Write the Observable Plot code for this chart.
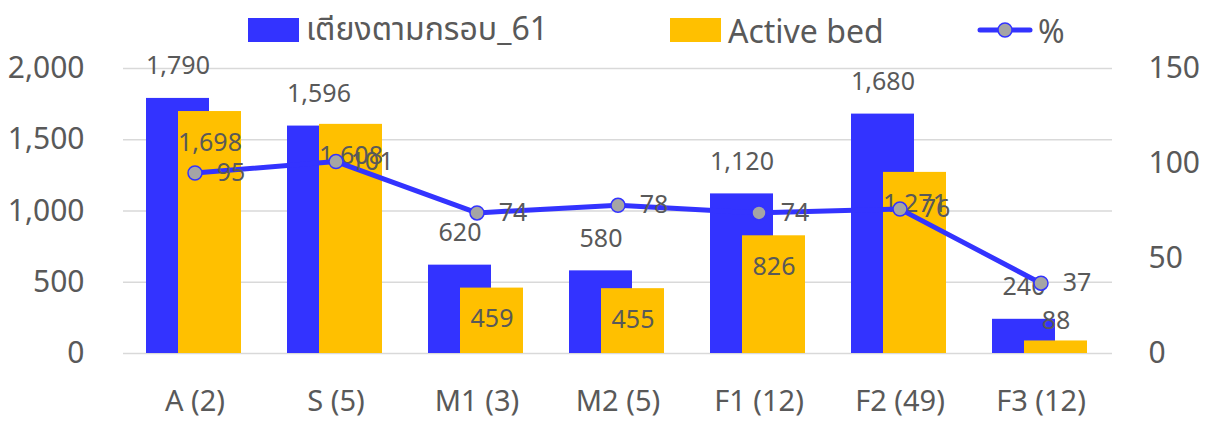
<!DOCTYPE html>
<html>
<head>
<meta charset="utf-8">
<script src="https://cdn.jsdelivr.net/npm/d3@7"></script>
<script src="https://cdn.jsdelivr.net/npm/@observablehq/plot@0.6"></script>
<style>
  body { margin: 0; background: #fff; font-family: "Noto Sans", "Noto Sans Thai", "DejaVu Sans", sans-serif; }
  #wrap { position: relative; width: 1211px; height: 423px; }
  .leg { position: absolute; top: 8px; display: flex; align-items: center; font-size: 32px; color: #595959; height: 44px; }
  .sw { width: 51px; height: 24px; margin-right: 7px; }
</style>
</head>
<body>
<div id="wrap">
  <div id="chart"></div>
  <div class="leg" style="left:248px"><div class="sw" style="background:#3333FF"></div><span>เตียงตามกรอบ_61</span></div>
  <div class="leg" style="left:670px"><div class="sw" style="background:#FFC000"></div><span>Active bed</span></div>
  <div class="leg" style="left:977px">
    <svg width="56" height="24" style="margin-right:5px"><line x1="3" y1="12" x2="53" y2="12" stroke="#3333FF" stroke-width="5" stroke-linecap="round"/><circle cx="28" cy="12" r="7" fill="#A5A5A5" stroke="#3333FF" stroke-width="1.5"/></svg><span>%</span>
  </div>
</div>
<script>
const categories = ["A (2)", "S (5)", "M1 (3)", "M2 (5)", "F1 (12)", "F2 (49)", "F3 (12)"];
const bedsFrame = [1790, 1596, 620, 580, 1120, 1680, 240];
const activeBeds = [1698, 1608, 459, 455, 826, 1271, 88];
const percent = [95, 101, 74, 78, 74, 76, 37];
const leftTicks = [0, 500, 1000, 1500, 2000];
const rightTicks = [0, 50, 100, 150];

const leftMax = 2000, rightMax = 150;
const toLeft = v => v * leftMax / rightMax;

const data = categories.map((c, i) => ({cat: c, beds: bedsFrame[i], active: activeBeds[i], pct: percent[i]}));
const fmt = d3.format(",");
const txt = "#595959";
const font = '"Noto Sans", "Noto Sans Thai", "DejaVu Sans", sans-serif';

const chart = Plot.plot({
  width: 1211,
  height: 423,
  marginLeft: 123,
  marginRight: 99,
  marginTop: 68,
  marginBottom: 70,
  style: {fontFamily: font, color: txt, background: "white"},
  x: {domain: categories, padding: 0, label: null},
  y: {domain: [0, leftMax], label: null},
  marks: [
    Plot.ruleY(leftTicks, {stroke: "#d9d9d9", strokeWidth: 1.5}),
    Plot.barY(data, {x: "cat", y: "beds", fill: "#3333FF", insetLeft: 22, insetRight: 56}),
    Plot.barY(data, {x: "cat", y: "active", fill: "#FFC000", insetLeft: 54, insetRight: 24}),
    Plot.axisY({anchor: "left", ticks: leftTicks, tickFormat: fmt, tickSize: 0, tickPadding: 39, fontSize: 30, fill: txt, label: null}),
    Plot.axisY({anchor: "right", ticks: rightTicks.map(toLeft), tickFormat: d => Math.round(d * rightMax / leftMax), tickSize: 0, tickPadding: 36, fontSize: 30, fill: txt, label: null}),
    Plot.axisX({tickSize: 0, tickPadding: 37, fontSize: 29, fill: txt, label: null}),
    Plot.text(data, {x: "cat", y: "beds", text: d => fmt(d.beds), dx: -17, dy: -32, fontSize: 25, fill: txt}),
    Plot.text(data, {x: "cat", y: d => Math.max(d.active - 220, 230), text: d => fmt(d.active), dx: 15, fontSize: 25, fill: txt}),
    Plot.line(data, {x: "cat", y: d => toLeft(d.pct), stroke: "#3333FF", strokeWidth: 5}),
    Plot.dot(data, {x: "cat", y: d => toLeft(d.pct), r: 7, fill: "#A5A5A5", stroke: "#3333FF", strokeWidth: 1.5}),
    Plot.text(data, {x: "cat", y: d => toLeft(d.pct), text: "pct", dx: 36, fontSize: 25, fill: txt})
  ]
});
document.getElementById("chart").appendChild(chart);
</script>
</body>
</html>
